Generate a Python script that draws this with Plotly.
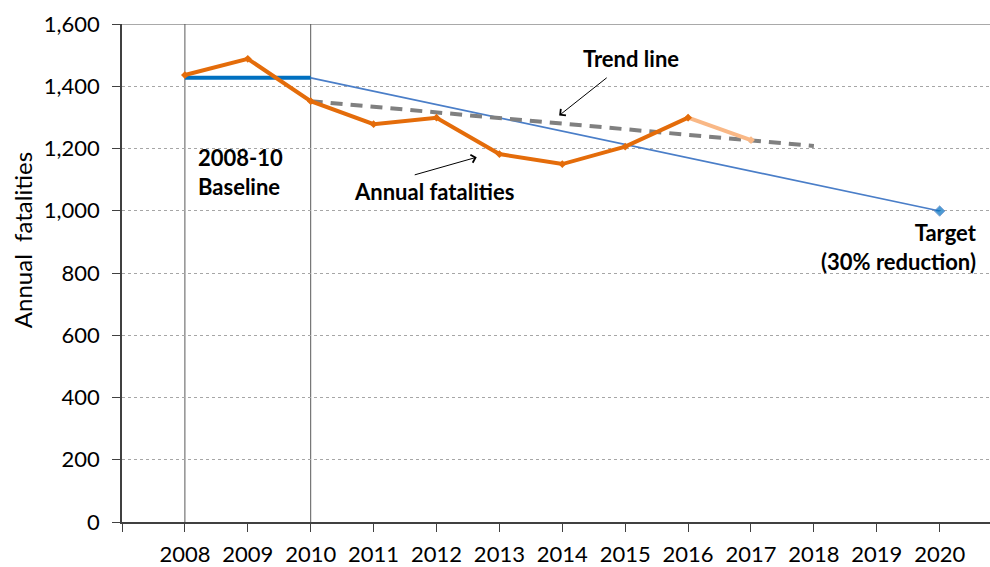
import plotly.graph_objects as go

# Annual road fatalities
years = [2008, 2009, 2010, 2011, 2012, 2013, 2014, 2015, 2016]
fatalities = [1436, 1488, 1352, 1278, 1299, 1182, 1150, 1206, 1299]

# Provisional figure
prov_years = [2016, 2017]
prov_values = [1299, 1227]

# 2008-10 baseline and path to target
baseline_years = [2008, 2010]
baseline_values = [1427, 1427]
target_years = [2010, 2020]
target_values = [1427, 999]

# Trend line
trend_years = [2010, 2018]
trend_values = [1352, 1208]

tick_years = list(range(2007, 2021))
tick_text = [""] + [str(y) for y in range(2008, 2021)]

FONT = "Lato, 'Open Sans', sans-serif"

fig = go.Figure()

fig.add_trace(go.Scatter(x=target_years, y=target_values, mode="lines+markers",
                         line=dict(color="#4A7EC8", width=1.6),
                         marker=dict(symbol=["circle", "diamond"], size=[0, 8],
                                     color="#0070C0"),
                         hoverinfo="skip"))
fig.add_trace(go.Scatter(x=baseline_years, y=baseline_values, mode="lines",
                         line=dict(color="#0070C0", width=4)))
fig.add_trace(go.Scatter(x=trend_years, y=trend_values, mode="lines",
                         line=dict(color="#808080", width=4, dash="12px,8px")))
fig.add_trace(go.Scatter(x=prov_years, y=prov_values, mode="lines+markers",
                         line=dict(color="#F9B886", width=4),
                         marker=dict(symbol="diamond", size=6, color="#F9B886")))
fig.add_trace(go.Scatter(x=years, y=fatalities, mode="lines+markers",
                         line=dict(color="#E46C0A", width=4),
                         marker=dict(symbol="diamond", size=6, color="#E46C0A")))

# Baseline period boundaries
for yr in baseline_years:
    fig.add_shape(type="line", x0=yr, x1=yr, y0=0, y1=1600, xref="x", yref="y",
                  line=dict(color="#595959", width=1), layer="below")

# Top border
fig.add_shape(type="line", x0=0, x1=1, xref="paper", y0=1600, y1=1600, yref="y",
              line=dict(color="#8C8C8C", width=1.5), layer="below")

bold = dict(family=FONT, size=22, color="#000000")
fig.add_annotation(x=2015.09, y=1489, text="<b>Trend line</b>", showarrow=False, font=bold)
fig.add_annotation(x=2013.95, y=1306, ax=2014.73, ay=1431, axref="x", ayref="y",
                   text="", showarrow=True, arrowhead=4, arrowsize=1.6,
                   arrowwidth=1, arrowcolor="#000000")
fig.add_annotation(x=2011.96, y=1063, text="<b>Annual fatalities</b>", showarrow=False,
                   font=bold)
fig.add_annotation(x=2012.64, y=1172, ax=2011.63, ay=1114, axref="x", ayref="y",
                   text="", showarrow=True, arrowhead=4, arrowsize=1.6,
                   arrowwidth=1, arrowcolor="#000000")
fig.add_annotation(x=2008.89, y=1125, text="<b>2008-10<br>Baseline</b>", showarrow=False,
                   font=bold, align="left")
fig.add_annotation(x=2020.63, y=884, xanchor="right", text="<b>Target<br>(30% reduction)</b>",
                   showarrow=False, font=bold, align="right")

# Y-axis title, placed in paper coordinates
fig.add_annotation(x=(22 - 122) / 868, y=(567 - 43 - 241) / 500,
                   xref="paper", yref="paper", xanchor="center", yanchor="middle",
                   text="Annual  fatalities", showarrow=False, textangle=-90,
                   font=dict(family=FONT, size=24, color="#000000"))

fig.update_layout(
    width=990, height=567,
    margin=dict(l=122, r=0, t=24, b=43),
    plot_bgcolor="white", paper_bgcolor="white",
    showlegend=False,
    font=dict(family=FONT, size=22, color="#000000"),
    xaxis=dict(range=[2007, 2020.8], tickmode="array", tickvals=tick_years,
               ticktext=tick_text, showgrid=False, zeroline=False,
               showline=True, linecolor="#404040", linewidth=1.5,
               ticks="outside", ticklen=8, tickcolor="#404040",
               ticklabelstandoff=4,
               tickfont=dict(family=FONT, size=22)),
    yaxis=dict(range=[0, 1600], tickvals=list(range(0, 1601, 200)),
               tickformat=",d", showgrid=True, gridcolor="#A6A6A6",
               griddash="dot", gridwidth=1, zeroline=False,
               showline=True, linecolor="#404040", linewidth=1.5,
               ticks="outside", ticklen=8, tickcolor="#404040",
               ticklabelstandoff=8,
               tickfont=dict(family=FONT, size=22)),
)

fig.write_html("out.html")
